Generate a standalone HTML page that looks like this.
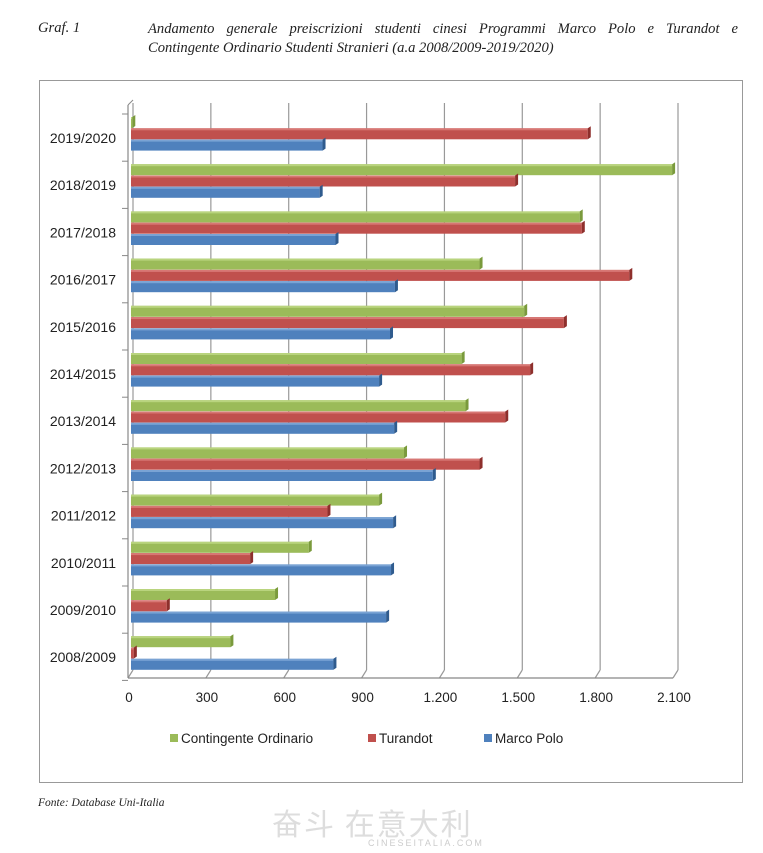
<!DOCTYPE html>
<html><head><meta charset="utf-8"><style>
body{margin:0;background:#fff;width:763px;height:853px;overflow:hidden;font-family:"Liberation Serif",serif}
.h{position:absolute;font-style:italic;font-size:14.6px;color:#222}
</style></head><body>
<div class="h" style="left:38px;top:20px">Graf. 1</div>
<div class="h" style="left:148px;top:20px;width:590px;line-height:19px"><div style="text-align:justify;text-align-last:justify">Andamento generale preiscrizioni studenti cinesi Programmi Marco Polo e Turandot e</div><div>Contingente Ordinario Studenti Stranieri (a.a 2008/2009-2019/2020)</div></div>
<div class="h" style="left:38px;top:797px;font-size:11.5px">Fonte: Database Uni-Italia</div>
<div style="position:absolute;left:272px;top:800px;font-family:'Noto Sans CJK SC',sans-serif;font-size:30px;color:#ddd;letter-spacing:2px">奋斗 在意大利<div style="font-family:'Liberation Sans',sans-serif;font-size:9px;margin-left:96px;margin-top:-6px;color:#ccc">CINESEITALIA.COM</div></div>
<svg id="c" width="763" height="853" style="position:absolute;left:0;top:0"></svg>
<script>
const categories=["2019/2020","2018/2019","2017/2018","2016/2017","2015/2016","2014/2015","2013/2014","2012/2013","2011/2012","2010/2011","2009/2010","2008/2009"];
const contingente=[5,2085,1729,1343,1515,1274,1289,1052,956,685,555,383];
const turandot=[1760,1480,1737,1920,1668,1538,1442,1343,757,459,138,11];
const marcoPolo=[738,727,788,1017,998,956,1014,1163,1010,1002,983,780];
const ticks=[0,300,600,900,1200,1500,1800,2100];
const tickLabels=["0","300","600","900","1.200","1.500","1.800","2.100"];
const seriesNames=["Contingente Ordinario","Turandot","Marco Polo"];
const NS="http://www.w3.org/2000/svg",svg=document.getElementById('c');
function mk(t,a,p){const e=document.createElementNS(NS,t);for(const k in a)e.setAttribute(k,a[k]);(p||svg).appendChild(e);return e;}
const x=v=>131+v*(545/2100);
const y=i=>138+i*47.2;
let r=mk('rect',{x:39.5,y:80.5,width:703,height:702,fill:'none',stroke:'#999'});

ticks.forEach((t,i)=>{
 let g=mk('line',{x1:x(t)+2,y1:103,x2:x(t)+2,y2:670,stroke:'#999','stroke-width':1.2});
 
 mk('line',{x1:x(t)+2,y1:670,x2:x(t)-3,y2:678,stroke:'#999','stroke-width':1.2});
 let tl=mk('text',{x:x(t)-2,y:702,'text-anchor':'middle','font-size':13.5,'font-family':'Liberation Sans, sans-serif',fill:'#222'});
 tl.textContent=tickLabels[i];
 
});
mk('line',{x1:128,y1:105,x2:128,y2:678,stroke:'#888','stroke-width':1.2});
mk('line',{x1:128,y1:678,x2:x(2100)-3,y2:678,stroke:'#888','stroke-width':1.2});
mk('line',{x1:128,y1:105,x2:133,y2:100,stroke:'#888'});
for(let i=0;i<=12;i++){mk('line',{x1:122,y1:114+i*47.2,x2:128,y2:114+i*47.2,stroke:'#888'});}
const cols=[["#9bbb59","#7a9a3c","#b9d47e"],["#c0504d","#8e2f2c","#d77774"],["#4f81bd","#2f5b8e","#7aa3d4"]];
const data=[contingente,turandot,marcoPolo];
const bn=['bar-contingente','bar-turandot','bar-marco-polo'];
categories.forEach((c,i)=>{
 let t=mk('text',{x:116,y:y(i)+5,'text-anchor':'end','font-size':14,'font-family':'Liberation Sans, sans-serif',fill:'#222'});
 t.textContent=c;
 
 data.forEach((d,s)=>{
  const top=y(i)-21+s*11.3, w=x(d[i])-x(0);
  let b=mk('rect',{x:x(0),y:top,width:Math.max(w,1),height:11,fill:cols[s][0]});
  
  mk('rect',{x:x(0),y:top,width:Math.max(w,1),height:2,fill:cols[s][2]});
  mk('polygon',{points:`${x(d[i])},${top} ${x(d[i])+3},${top-2} ${x(d[i])+3},${top+9} ${x(d[i])},${top+11}`,fill:cols[s][1]});
 });
});
const lx=[170,368,484];
seriesNames.forEach((n,s)=>{
 let sq=mk('rect',{x:lx[s],y:734,width:8,height:8,fill:cols[s][0]});
 
 let t=mk('text',{x:lx[s]+11,y:743,'font-size':13.5,'font-family':'Liberation Sans, sans-serif',fill:'#222'});
 t.textContent=n;
 
});
</script>
</body></html>
